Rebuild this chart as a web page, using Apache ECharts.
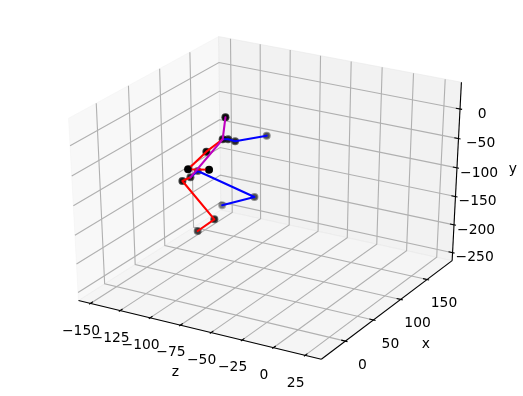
<!DOCTYPE html><html><head><meta charset="utf-8"><style>html,body{margin:0;background:#fff}#c{width:523px;height:396px}</style></head><body><div id="c"></div>
<script src="https://cdn.jsdelivr.net/npm/echarts@6/dist/echarts.min.js"></script>
<script>
// joints: head, neck, b1, b2, b3, r1, r2, r3, hip, hb, b4, b5, hr, r4, r5
var jointZ=[-86.5,-93.9,-101.8,-105.8,-114.4,-87.3,-84.6,-54.8,-121.1,-130.1,-106.8,-144.6,-112.5,-96.7,-121.0];
var jointX=[60,70,95,115,188,30,-5,-31,70,100,150,170,40,60,80];
var jointY=[16.5,-29.0,-47.5,-64.7,-102.7,-22.5,-28.7,0.0,-105.4,-117.3,-184.7,-229.9,-88.9,-160.7,-206.0];
var blueArm=[1,2,3,4], blueLeg=[8,9,10,11], redArm=[1,5,6,7], redLeg=[8,12,13,14], spine=[0,1,8];
var zTicks=[-150,-125,-100,-75,-50,-25,0,25];
var xTicks=[0,50,100,150];
var yTicks=[-250,-200,-150,-100,-50,0];
var zLim=[-160.1,37.7], xLim=[-41.7,198.9], yLim=[-264.5,44.4];

var u=[.8660254,.5,0],v=[-.25,.4330127,.8660254],w=[.4330127,-.75,.5];
function norm(z,x,y){return [(z-zLim[0])/(zLim[1]-zLim[0])-.5,(x-xLim[0])/(xLim[1]-xLim[0])-.5,(y-yLim[0])/(yLim[1]-yLim[0])-.5];}
function dot(a,b){return a[0]*b[0]+a[1]*b[1]+a[2]*b[2];}
function proj(z,x,y){var d=norm(z,x,y),k=10-dot(w,d);return [dot(u,d)/k,dot(v,d)/k];}
function depth(z,x,y){return dot(w,norm(z,x,y));}
function minus(n){return String(n).replace('-','\u2212');}

var z0=zLim[0],z1=zLim[1],x0=xLim[0],x1=xLim[1],y0=yLim[0],y1=yLim[1];
var panes=[
 {c:'rgba(242,242,242,0.5)',p:[[z0,x0,y0],[z0,x1,y0],[z0,x1,y1],[z0,x0,y1]]},
 {c:'rgba(230,230,230,0.5)',p:[[z0,x1,y0],[z1,x1,y0],[z1,x1,y1],[z0,x1,y1]]},
 {c:'rgba(236,236,236,0.5)',p:[[z0,x0,y0],[z1,x0,y0],[z1,x1,y0],[z0,x1,y0]]}
];
var gridLines=[],axisLines=[],tickLines=[],texts=[];
zTicks.forEach(function(t){gridLines.push([[t,x0,y0],[t,x1,y0],[t,x1,y1]]);
 tickLines.push([[t,x0-0.0083*(x1-x0),y0],[t,x0+0.0167*(x1-x0),y0]]);
 texts.push({s:minus(t),w:[t,x0,y0],o:[-9.4,27.6]});});
xTicks.forEach(function(t){gridLines.push([[z0,t,y1],[z0,t,y0],[z1,t,y0]]);
 tickLines.push([[z1+0.0083*(z1-z0),t,y0],[z1-0.0167*(z1-z0),t,y0]]);
 texts.push({s:minus(t),w:[z1,t,y0],o:[16.9,24]});});
yTicks.forEach(function(t){gridLines.push([[z0,x0,t],[z0,x1,t],[z1,x1,t]]);
 tickLines.push([[z1+0.0083*(z1-z0),x1,t],[z1-0.0167*(z1-z0),x1,t]]);
 texts.push({s:minus(t),w:[z1,x1,t],o:[22.1,5.2]});});
axisLines.push([[z0,x0,y0],[z1,x0,y0]],[[z1,x0,y0],[z1,x1,y0]],[[z1,x1,y0],[z1,x1,y1]]);
texts.push({s:'z',w:[(z0+z1)/2,x0,y0],o:[-21.9,43.4]});
texts.push({s:'x',w:[z1,(x0+x1)/2,y0],o:[36.8,36.6]});
texts.push({s:'y',w:[z1,x1,(y0+y1)/2],o:[56.1,-4.4]});

function P3(p){return proj(p[0],p[1],p[2]);}
function polySeries(items,z,build){return {type:'custom',coordinateSystem:'cartesian2d',silent:true,clip:false,z:z,animation:false,
 data:items.map(function(_,i){return [i];}),encode:{x:-1,y:-1},
 renderItem:function(params,api){return build(items[params.dataIndex],api);}};}
function pts(list,api){return list.map(function(p){return api.coord(P3(p));});}
function stroke(c,w){return {stroke:c,lineWidth:w,fill:null,lineCap:'butt'};}
function chain(idx,color,zl){return {type:'line',z:zl,silent:true,animation:false,showSymbol:false,symbol:'none',clip:false,
 lineStyle:{color:color,width:2.08,cap:'round',join:'round'},
 data:idx.map(function(i){return proj(jointZ[i],jointX[i],jointY[i]);})};}

var depths=jointZ.map(function(_,i){return depth(jointZ[i],jointX[i],jointY[i]);});
var dMin=Math.min.apply(null,depths),dMax=Math.max.apply(null,depths);
function shade(base,range,keep){var out=[];jointZ.forEach(function(_,i){if(keep&&!keep(depths[i]))return;
 out.push({value:proj(jointZ[i],jointX[i],jointY[i]),itemStyle:{opacity:base+range*(depths[i]-dMin)/(dMax-dMin)}});});return out;}
function dots(data,size,zl){return {type:'scatter',z:zl,silent:true,animation:false,clip:false,symbol:'circle',symbolSize:size,itemStyle:{color:'#000'},data:data};}
function near(d){return d>0.3;}

var option={animation:false,backgroundColor:'#fff',
 grid:{left:0,right:0,top:0,bottom:0,containLabel:false},
 xAxis:{type:'value',show:false,min:(0-268.2)/2803,max:(523-268.2)/2803,scale:true},
 yAxis:{type:'value',show:false,min:(192.4-396)/2081,max:192.4/2081,scale:true},
 series:[
  polySeries(panes,1,function(pn,api){return {type:'polygon',shape:{points:pts(pn.p,api)},style:{fill:pn.c,stroke:pn.c,lineWidth:1}};}),
  polySeries(gridLines,2,function(g,api){return {type:'polyline',shape:{points:pts(g,api)},style:stroke('#b0b0b0',1.11)};}),
  polySeries(axisLines,3,function(g,api){return {type:'polyline',shape:{points:pts(g,api)},style:stroke('#000',1.11)};}),
  polySeries(tickLines,3,function(g,api){return {type:'polyline',shape:{points:pts(g,api)},style:stroke('#000',1.11)};}),
  polySeries(texts,4,function(t,api){var c=api.coord(P3(t.w));return {type:'text',x:c[0]+t.o[0],y:c[1]+t.o[1],
    style:{text:t.s,fill:'#000',font:'13.89px "DejaVu Sans"',align:'center',verticalAlign:'middle'}};}),
  dots(shade(0.3,0.65),8,5),
  dots(shade(0.3,0.7),6,5),
  chain(blueArm,'#0000ff',6),chain(blueLeg,'#0000ff',6),
  chain(redArm,'#ff0000',7),chain(redLeg,'#ff0000',7),
  chain(spine,'#bf00bf',8),
  dots(shade(1,0,near),7,9)
 ]};
var chart=echarts.init(document.getElementById('c'),null,{renderer:'canvas'});
chart.setOption(option);
</script></body></html>
